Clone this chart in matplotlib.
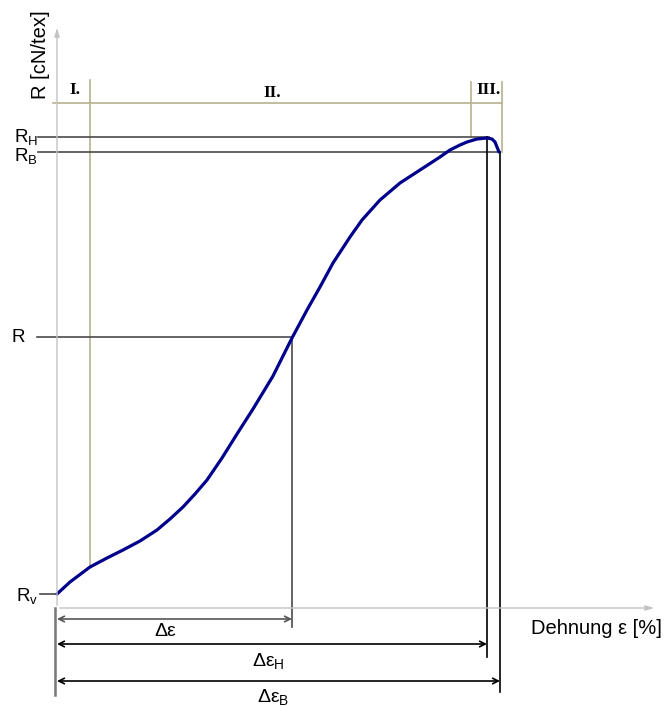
import matplotlib
matplotlib.use("Agg")
import matplotlib.pyplot as plt

plt.rcParams["mathtext.fontset"] = "custom"
plt.rcParams["mathtext.rm"] = "Liberation Sans"
plt.rcParams["mathtext.it"] = "Liberation Sans"

# Data (arbitrary units: strain, tenacity)
strain = [0, 13, 33, 50, 66, 83, 100, 113, 126, 138, 150, 165, 180, 196, 216, 235,
          250, 263, 276, 293, 305, 323, 343, 363, 383, 393, 403, 410, 420, 430, 435,
          438, 442]
tenacity = [14, 26, 41, 50, 58, 67, 78, 89, 101, 114, 128, 150, 174, 199, 232, 270,
            298, 321, 345, 371, 388, 408, 425, 438, 451, 458, 463, 466, 469, 470, 469,
            466, 456]

Rv = 14
R_point = (235, 271)
RH, eps_H = 471, 430
RB, eps_B = 456, 443
zone_I_end = 33
zone_III_start = 414
zone_III_end = 445

fig = plt.figure(figsize=(6.64, 7.06), dpi=100)
ax = fig.add_axes([0, 0, 1, 1])
ax.set_xlim(-57, 607)
ax.set_ylim(-98, 608)
ax.axis("off")

FONT = "Liberation Sans"
SERIF = "Liberation Serif"
grey_ax = "#c3c3c3"
tan = "#b8b090"
dark = "#4a4a4a"

# axes with arrows
ax.annotate("", xy=(0, 583), xytext=(0, 0),
            arrowprops=dict(arrowstyle="-|>,head_length=0.5,head_width=0.15", color=grey_ax, lw=1.0))
ax.annotate("", xy=(600, 0), xytext=(0, 0),
            arrowprops=dict(arrowstyle="-|>,head_length=0.5,head_width=0.15", color=grey_ax, lw=1.0))

# zone lines
ax.plot([-4, zone_III_end], [505, 505], color=tan, lw=1.2)
ax.plot([zone_I_end, zone_I_end], [42, 528], color=tan, lw=1.2)
ax.plot([zone_III_start, zone_III_start], [RH, 526], color=tan, lw=1.2)
ax.plot([zone_III_end, zone_III_end], [RB, 526], color=tan, lw=1.2)
ax.text(18, 518, "I.", fontsize=12.5, fontweight="bold", family=SERIF, ha="center", va="center")
ax.text(215, 515, "II.", fontsize=12.5, fontweight="bold", family=SERIF, ha="center", va="center")
ax.text(432, 518, "III.", fontsize=12.5, fontweight="bold", family=SERIF, ha="center", va="center")

# horizontal reference lines
ax.plot([-19, eps_H + 2], [RH, RH], color=dark, lw=1.2)
ax.plot([-19, eps_B], [RB, RB], color=dark, lw=1.2)
ax.plot([-20, R_point[0]], [R_point[1], R_point[1]], color=dark, lw=1.2)
ax.plot([-17, -2], [Rv, Rv], color=dark, lw=1.2)

# vertical drop lines
ax.plot([R_point[0], R_point[0]], [R_point[1], -19], color=dark, lw=1.2)
ax.plot([eps_H, eps_H], [RH, -49], color="black", lw=1.2)
ax.plot([eps_B, eps_B], [RB, -84], color="black", lw=1.2)
ax.plot([-2, -2], [0, -87], color="#777777", lw=1.8)

# dimension arrows
for y, x1, c in [(-11, R_point[0], "#555555"), (-36, eps_H, "black"), (-73, eps_B, "black")]:
    ax.annotate("", xy=(x1, y), xytext=(0, y),
                arrowprops=dict(arrowstyle="<->,head_length=0.4,head_width=0.2",
                                color=c, lw=1.2, shrinkA=0, shrinkB=0))

# labels
ax.text(-17, 553, "R [cN/tex]", rotation=90, fontsize=14.5, family=FONT, ha="center", va="center")
ax.text(-31, RH, r"R$_\mathregular{H}$", fontsize=13.5, family=FONT, ha="center", va="center")
ax.text(-31, RB - 4, r"R$_\mathregular{B}$", fontsize=13.5, family=FONT, ha="center", va="center")
ax.text(-39, R_point[1], "R", fontsize=13.5, family=FONT, ha="center", va="center")
ax.text(-30, Rv - 2, r"R$_\mathregular{v}$", fontsize=13.5, family=FONT, ha="center", va="center")
ax.text(108, -24, "Δε", fontsize=14, family=FONT, ha="center", va="center")
ax.text(211, -53, r"Δε$_\mathregular{H}$", fontsize=14, family=FONT, ha="center", va="center")
ax.text(216, -89, r"Δε$_\mathregular{B}$", fontsize=14, family=FONT, ha="center", va="center")
ax.text(539, -20, "Dehnung ε [%]", fontsize=14.5, family=FONT, ha="center", va="center")

# curve
ax.plot(strain, tenacity, color="#00008c", lw=2.3, solid_capstyle="round", solid_joinstyle="round")

fig.savefig("out.png", dpi=100)
